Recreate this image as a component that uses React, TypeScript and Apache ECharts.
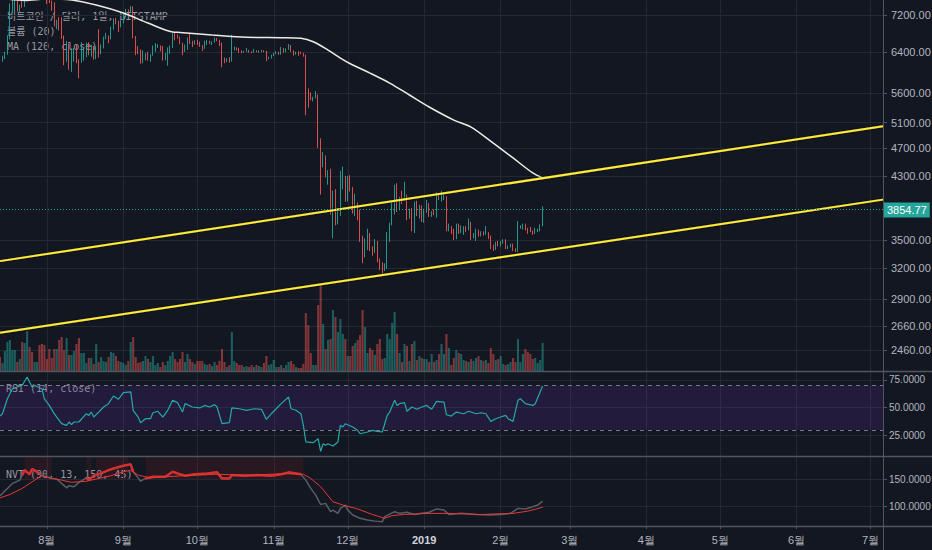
import React, { useEffect, useRef } from 'react';
import * as echarts from 'echarts';

// ---------- data ----------
const START = [2018, 6, 13]; // first daily candle: 2018-07-13
const END = [2019, 6, 6]; // right edge of the time axis: 2019-07-06
const FIRST_OPEN = 6250;

const CLOSES = [
  6240, 6270, 6360, 6730, 7320, 7380, 7470, 7340, 7410, 7400, 7720, 8400, 8170, 7940, 8190, 8230, 8210, 8170, 7730,
  7600, 7530, 7420, 7010, 7040, 6940, 6720, 6280, 6540, 6150, 6240, 6310, 6250, 6190, 6270, 6310, 6580, 6390, 6490, 6260, 6470, 6370, 6530, 6700, 6730, 6710, 6910, 7090, 7040, 6980, 7030,
  7190, 7280, 7260, 7370, 6700, 6510, 6410, 6200, 6250, 6320, 6290, 6330, 6490, 6490, 6520, 6500, 6250, 6340, 6390, 6490, 6760, 6720, 6710, 6590, 6430, 6460, 6680, 6630, 6600, 6630,
  6590, 6530, 6480, 6580, 6630, 6580, 6600, 6680, 6650, 6590, 6230, 6220, 6230, 6210, 6460, 6470, 6460, 6410, 6390, 6410, 6420, 6400, 6390, 6420, 6400, 6400, 6410, 6400, 6270, 6280, 6320,
  6360, 6390, 6360, 6480, 6420, 6460, 6530, 6420, 6350, 6390, 6380, 6370, 6320, 5620, 5600, 5520, 5520, 5580, 4770, 4420, 4560, 4300, 4330, 3860, 4000, 3770, 3790, 4250, 4250, 4000,
  4200, 4140, 3850, 3950, 3750, 3500, 3390, 3410, 3540, 3410, 3380, 3480, 3270, 3220, 3190, 3210, 3530, 3690, 3830, 4140, 3880, 4000, 3970, 4040, 3790, 3830, 3620, 3920, 3780, 3900, 3740,
  3850, 3940, 3800, 3820, 3790, 4030, 3990, 4000, 4010, 3640, 3650, 3620, 3510, 3660, 3590, 3620, 3650, 3610, 3690, 3540, 3550, 3590, 3560, 3590, 3580, 3580, 3550, 3440, 3400, 3460, 3440,
  3470, 3500, 3410, 3420, 3450, 3400, 3380, 3650, 3650, 3690, 3620, 3610, 3600, 3580, 3590, 3610, 3670, 3854.77,
];
const HIGHS = [
  6340, 6320, 6400, 6750, 7470, 7580, 7550, 7680, 7440, 7570, 7790, 8470, 8480, 8310, 8270, 8240, 8290, 8270, 8170,
  7750, 7730, 7540, 7500, 7090, 7150, 7150, 6740, 6620, 6570, 6470, 6480, 6540, 6250, 6600, 6480, 6590, 6600, 6540, 6520, 6510, 6880, 6550, 6720, 6800, 6740, 6940, 7120, 7130, 7070, 7080,
  7270, 7340, 7330, 7410, 7400, 6730, 6520, 6450, 6430, 6370, 6400, 6350, 6530, 6580, 6560, 6530, 6520, 6380, 6490, 6530, 6790, 6820, 6770, 6720, 6590, 6550, 6700, 6800, 6630, 6640,
  6650, 6610, 6540, 6630, 6650, 6630, 6620, 6700, 6690, 6650, 6590, 6280, 6270, 6290, 6760, 6510, 6490, 6480, 6430, 6420, 6480, 6440, 6410, 6460, 6430, 6430, 6440, 6430, 6420, 6300, 6340,
  6380, 6410, 6400, 6500, 6480, 6470, 6560, 6540, 6430, 6400, 6410, 6400, 6380, 6340, 5690, 5620, 5540, 5640, 5580, 4850, 4640, 4590, 4380, 4400, 4100, 4120, 3880, 4370, 4430, 4300,
  4300, 4310, 4150, 4060, 3950, 3860, 3550, 3520, 3630, 3580, 3430, 3510, 3490, 3300, 3260, 3250, 3590, 3700, 3950, 4180, 4200, 4020, 4100, 4220, 4050, 3870, 3880, 3960, 3970, 3920, 3910,
  3870, 3980, 3940, 3840, 3860, 4080, 4070, 4100, 4050, 4030, 3690, 3660, 3630, 3690, 3690, 3670, 3660, 3660, 3750, 3710, 3580, 3630, 3620, 3600, 3600, 3660, 3590, 3550, 3450, 3480, 3490,
  3490, 3510, 3510, 3440, 3460, 3460, 3410, 3720, 3670, 3690, 3690, 3640, 3650, 3610, 3640, 3630, 3680, 3900,
];
const LOWS = [
  6130, 6200, 6250, 6340, 6660, 7250, 7290, 7280, 7250, 7370, 7390, 7710, 8060, 7880, 7830, 8080, 8140, 7860, 7660,
  7460, 7480, 7300, 6940, 6880, 6850, 6670, 6130, 6200, 6040, 6000, 6200, 6170, 5880, 6180, 6220, 6290, 6330, 6300, 6240, 6250, 6280, 6350, 6470, 6660, 6580, 6660, 6870, 6990, 6820, 6920,
  7010, 7140, 7200, 7240, 6680, 6330, 6350, 6160, 6170, 6230, 6220, 6200, 6320, 6400, 6480, 6410, 6220, 6230, 6120, 6360, 6480, 6640, 6680, 6560, 6330, 6400, 6440, 6560, 6500, 6550,
  6540, 6500, 6420, 6460, 6540, 6560, 6540, 6590, 6620, 6520, 6090, 6170, 6190, 6180, 6200, 6430, 6430, 6380, 6370, 6380, 6400, 6380, 6370, 6380, 6390, 6380, 6390, 6390, 6210, 6250, 6260,
  6310, 6350, 6340, 6340, 6380, 6390, 6440, 6400, 6320, 6340, 6320, 6350, 6300, 5220, 5350, 5480, 5460, 5510, 4700, 4050, 4420, 4280, 4180, 3800, 3520, 3670, 3680, 3780, 4120, 3960,
  3960, 4090, 3810, 3780, 3730, 3480, 3250, 3310, 3390, 3380, 3330, 3360, 3260, 3180, 3130, 3170, 3190, 3480, 3670, 3800, 3830, 3850, 3930, 3970, 3730, 3750, 3600, 3580, 3780, 3750, 3710,
  3700, 3820, 3770, 3770, 3790, 3760, 3980, 3960, 3980, 3600, 3600, 3570, 3500, 3510, 3570, 3580, 3560, 3590, 3610, 3500, 3520, 3490, 3540, 3540, 3550, 3560, 3510, 3400, 3380, 3390, 3430,
  3430, 3460, 3400, 3400, 3420, 3380, 3370, 3370, 3630, 3620, 3610, 3570, 3590, 3560, 3570, 3590, 3600, 3660,
];
// relative volume (pane scale 0..100)
const VOLUMES = [
  14, 8, 20, 29, 31, 21, 21, 9, 12, 29, 28, 40, 24, 19, 9, 9, 26, 27, 26, 12,
  22, 13, 22, 22, 31, 34, 21, 33, 16, 16, 20, 27, 33, 18, 18, 8, 13, 13, 7, 27,
  9, 14, 10, 9, 14, 19, 18, 15, 10, 9, 8, 6, 10, 29, 34, 14, 8, 9, 10, 15,
  12, 9, 15, 6, 8, 4, 9, 6, 10, 15, 19, 12, 9, 12, 19, 9, 17, 12, 9, 7,
  10, 10, 10, 7, 6, 7, 5, 9, 6, 10, 22, 9, 4, 6, 39, 10, 8, 6, 6, 4,
  5, 4, 6, 4, 6, 5, 4, 8, 15, 6, 7,
  11, 4, 4, 6, 3, 6, 9, 10, 7, 4, 3, 3, 7, 58, 46, 18, 6, 6, 66, 87,
  47, 22, 31, 32, 61, 54, 39, 52, 37, 32, 15, 15, 25, 28, 31, 36, 61, 44, 18, 23,
  21, 16, 27, 32, 12, 13, 37, 32, 48, 59, 37, 18, 9, 27, 25, 10, 27, 30, 11, 15,
  13, 12, 12, 9, 17, 9, 11, 17, 27, 17, 37,
  23, 6, 13, 21, 18, 17, 11, 10, 9, 12, 10, 13, 15, 11, 10, 11, 8, 23, 17, 11,
  12, 15, 7, 6, 7, 9, 13, 9,
  32, 9, 17, 22, 19, 17, 12, 13, 8, 11, 28,
];
// [day index from 2018-07-13, value]
const MA120_POINTS = [
  [0, 7600], [10, 7545], [19, 7580], [29, 7555], [39, 7433], [50, 7246], [60, 7017], [70, 6818], [73, 6810],
  [86, 6753], [100, 6703], [114, 6695], [122, 6682], [127, 6610], [133, 6436], [138, 6273], [143, 6134],
  [150, 5978], [158, 5790], [166, 5572], [174, 5362], [184, 5142], [191, 5028], [200, 4776], [208, 4554],
  [216, 4340], [220, 4271],
];
const RSI_POINTS = [
  [0, 42.4], [1, 44.5], [3, 58], [5, 67], [7, 68.7], [9, 70.2], [11, 77.7], [13, 68.7], [14, 70], [17, 67],
  [18, 58], [20, 52], [22, 44.5], [23, 41.5], [25, 35.5], [27, 34], [28, 37], [29, 34.6], [30, 37], [32, 37],
  [35, 44.5], [36, 43], [37, 46], [38, 41.5], [40, 46], [42, 50.6], [44, 53.6], [46, 60.5], [48, 57.5], [50, 63.5],
  [53, 64.2], [54, 47.6], [56, 41.5], [57, 36.4], [59, 40], [61, 40], [62, 45.4], [64, 46.7], [66, 41.5], [68, 47.6],
  [70, 56.6], [72, 54.5], [74, 46], [75, 53.6], [78, 50.6], [81, 49.7], [83, 52], [85, 50.6], [87, 52.7], [88, 50.6],
  [90, 35.5], [93, 36.4], [94, 49.7], [97, 49], [100, 47.6], [103, 49], [106, 48.5], [108, 39.4], [110, 44.5], [112, 49],
  [114, 53.6], [117, 59.6], [118, 49], [120, 47.6], [122, 44.5], [123, 34], [124, 19], [127, 18.3], [129, 22], [130, 10.5],
  [131, 17.4], [132, 16], [133, 17.4], [135, 15.3], [137, 19], [138, 34], [139, 32.5], [140, 35.5], [143, 32.5], [145, 29.5],
  [146, 26.4], [149, 28], [151, 29.5], [153, 28.6], [155, 28], [157, 43], [158, 46], [160, 56.6], [161, 52], [162, 53.6],
  [164, 54.5], [165, 46.7], [167, 50.6], [169, 48.5], [171, 50.6], [173, 52], [175, 48.5], [177, 55.7], [180, 55], [181, 43.6],
  [183, 42.4], [185, 46], [188, 44.5], [190, 46.7], [193, 44.5], [195, 45.4], [197, 44.5], [199, 37.6], [201, 40], [203, 41.5],
  [205, 43], [206, 40], [208, 37.6], [210, 56.6], [211, 58], [213, 53.6], [216, 52], [217, 53.6], [220, 69.6],
];
const NVT_POINTS = [
  [0, 119.9], [3, 133], [5, 142], [6, 144], [8, 148], [9, 157], [10, 166], [12, 158.5], [13, 168], [14, 166],
  [16, 160], [17, 156], [19, 154], [21, 151], [23, 150], [25, 142], [27, 134], [28, 138], [30, 136], [32, 144],
  [35, 152], [36, 148], [38, 156], [41, 160], [44, 166], [46, 169], [50, 174], [53, 176.5], [54, 163], [56, 152],
  [57, 146], [59, 151], [62, 154], [67, 154], [70, 163], [72, 160], [75, 156], [79, 158.5], [84, 160], [88, 162],
  [90, 151], [93, 151], [94, 157], [99, 156], [104, 157], [110, 156], [114, 158.5], [117, 162], [122, 158.5], [124, 148],
  [126, 133], [128, 121], [130, 104], [132, 106], [134, 91], [135, 94], [137, 88], [138, 97], [140, 103], [141, 94],
  [143, 85], [146, 79], [149, 76], [152, 74], [155, 73], [156, 82], [160, 91], [162, 88], [165, 90], [168, 86],
  [171, 88], [174, 90], [177, 96], [180, 94], [182, 86], [187, 88], [193, 86], [198, 85], [203, 86], [207, 88],
  [210, 97], [213, 96], [216, 100], [218, 103], [220, 110],
];
const NVT_SIGNAL_POINTS = [
  [0, 116], [4, 122], [9, 133], [13, 145], [17, 156], [20, 152], [25, 148], [29, 144], [35, 146], [39, 150],
  [45, 156], [50, 163], [53, 166], [56, 157], [61, 152], [67, 154], [75, 156], [87, 158.5], [101, 157], [116, 159.6],
  [123, 158.5], [126, 151], [130, 136], [135, 109], [139, 103], [145, 96], [151, 86], [156, 79], [159, 84], [164, 86],
  [174, 88], [182, 88], [195, 86], [208, 88], [214, 92], [220, 99],
];
const NVT_ZONES = [[10, 21], [35, 37], [39, 52], [59, 123]];
const NVT_HOT_RANGES = [[9, 16], [33, 54], [58, 123]];

const PRICE_TICKS = [2460, 2660, 2900, 3200, 3500, 4300, 4700, 5100, 5600, 6400, 7200];
const PRICE_MIN = 2301;
const PRICE_MAX = 7555;
const LAST_PRICE = 3854.77;
const UPPER_TREND = [3272, 5042]; // value at first / last category
const LOWER_TREND = [2601, 3985];
const RSI_TICKS = [25, 50, 75];
const RSI_MIN = 6.3;
const RSI_MAX = 82.2;
const RSI_BAND = [30, 70];
const NVT_TICKS = [100, 150];
const NVT_MIN = 65.2;
const NVT_MAX = 189.7;
const NVT_THRESHOLD = 150;

const TITLE_LINES = ['비트코인 / 달러, 1일, BITSTAMP', '볼륨 (20)', 'MA (120, close)'];
const RSI_TITLE = 'RSI (14, close)';
const NVT_TITLE = 'NVT (90, 13, 150, 45)';

// ---------- styles ----------
const BG = '#131722';
const GRID = '#242833';
const SEP = '#52555f';
const LABEL = '#b2b5be';
const LEGEND = '#9598a1';
const TEAL = '#26a69a';
const RED = '#ef5350';
const MONO = '10px "DejaVu Sans Mono", "Noto Sans CJK KR", monospace';
const SANS = '"Liberation Sans", Arial, sans-serif';

function buildDates(): string[] {
  const out: string[] = [];
  const d = new Date(Date.UTC(START[0], START[1], START[2]));
  const end = Date.UTC(END[0], END[1], END[2]);
  while (d.getTime() <= end) {
    out.push(d.toISOString().slice(0, 10));
    d.setUTCDate(d.getUTCDate() + 1);
  }
  return out;
}

function buildOption() {
  const ln = Math.log;
  const DATES = buildDates();
  const last = DATES.length - 1;
  const monthStart = (_i: number, v: string) => v.slice(8, 10) === '01';
  const opens = CLOSES.map((c, i) => (i === 0 ? FIRST_OPEN : CLOSES[i - 1]));
  const candles = CLOSES.map((c, i) => {
    const o = opens[i];
    const h = Math.max(HIGHS[i], o, c);
    const l = Math.min(LOWS[i], o, c);
    return [ln(o), ln(c), ln(l), ln(h)];
  });
  const vols = VOLUMES.map((v, i) => ({
    value: v,
    itemStyle: { color: CLOSES[i] >= opens[i] ? 'rgba(38,166,154,0.5)' : 'rgba(239,83,80,0.5)' },
  }));
  const pts = (arr: number[][], f = (x: number) => x) => arr.map(([i, v]) => [DATES[i], f(v)]);

  const grids = [
    { left: 0, right: 49, top: 0, height: 371 },
    { left: 0, right: 49, top: 271, height: 100 },
    { left: 0, right: 49, top: 372, height: 84 },
    { left: 0, right: 49, top: 457, height: 69 },
  ].map((g) => ({ ...g, outerBoundsMode: 'none', containLabel: false }));

  const xAxes = [0, 1, 2, 3].map((i) => ({
    type: 'category',
    gridIndex: i,
    data: DATES,
    boundaryGap: false,
    show: i !== 1,
    axisLine: { show: false },
    axisTick: { show: i === 3, interval: monthStart, length: 3, lineStyle: { color: SEP } },
    axisLabel: {
      show: i === 3,
      interval: monthStart,
      color: LABEL,
      fontSize: 11,
      fontFamily: SANS,
      margin: 8,
      formatter: (v: string) => {
        const m = Number(v.slice(5, 7));
        return m === 1 ? `{y|${v.slice(0, 4)}}` : `${m}월`;
      },
      rich: { y: { fontWeight: 'bold', color: '#d1d4dc', fontSize: 11, fontFamily: SANS } },
    },
    splitLine: { show: i !== 1, interval: monthStart, lineStyle: { color: GRID, width: 1 } },
  }));

  const valueAxis = (
    grid: number,
    min: number,
    max: number,
    ticks: number[],
    fmt: (v: number) => string,
    fontSize: number,
    margin: number,
  ) => ({
    type: 'value',
    gridIndex: grid,
    position: 'right',
    offset: 0,
    min,
    max,
    axisLine: { show: false },
    axisTick: { show: true, customValues: ticks, length: 4, lineStyle: { color: SEP } },
    axisLabel: { customValues: ticks, formatter: fmt, color: LABEL, fontSize, fontFamily: SANS, margin },
    splitLine: { show: true, lineStyle: { color: GRID, width: 1 } },
  });

  const yAxes = [
    valueAxis(0, ln(PRICE_MIN), ln(PRICE_MAX), PRICE_TICKS.map(ln), (v) => Math.exp(v).toFixed(2), 11, 8),
    {
      type: 'value',
      gridIndex: 0,
      position: 'right',
      offset: 0,
      min: ln(PRICE_MIN),
      max: ln(PRICE_MAX),
      axisLine: { show: false },
      axisTick: { show: false },
      splitLine: { show: false },
      axisLabel: {
        customValues: [ln(LAST_PRICE)],
        formatter: (v: number) => Math.exp(v).toFixed(2),
        color: '#ffffff',
        backgroundColor: TEAL,
        padding: [2, 3, 2, 3],
        fontSize: 11,
        fontFamily: SANS,
        margin: 1,
      },
    },
    { type: 'value', gridIndex: 1, min: 0, max: 100, show: false, splitLine: { show: false } },
    valueAxis(2, RSI_MIN, RSI_MAX, RSI_TICKS, (v) => v.toFixed(4), 10, 6),
    valueAxis(3, NVT_MIN, NVT_MAX, NVT_TICKS, (v) => v.toFixed(4), 10, 6),
  ];

  const series: any[] = [
    {
      type: 'candlestick',
      xAxisIndex: 0,
      yAxisIndex: 0,
      data: candles,
      barWidth: 1.3,
      z: 2,
      itemStyle: { color: TEAL, color0: RED, borderColor: TEAL, borderColor0: RED, borderWidth: 0.9 },
      markLine: {
        silent: true,
        symbol: ['none', 'none'],
        label: { show: false },
        lineStyle: { color: TEAL, type: [1, 2], width: 1, opacity: 1 },
        data: [{ yAxis: ln(LAST_PRICE) }],
      },
    },
    {
      type: 'line',
      name: 'MA120',
      xAxisIndex: 0,
      yAxisIndex: 0,
      data: pts(MA120_POINTS, ln),
      showSymbol: false,
      smooth: 0.3,
      z: 3,
      lineStyle: { color: '#ecece4', width: 1.5 },
    },
    ...[UPPER_TREND, LOWER_TREND].map((t) => ({
      type: 'line',
      xAxisIndex: 0,
      yAxisIndex: 0,
      data: [[DATES[0], ln(t[0])], [DATES[last], ln(t[1])]],
      showSymbol: false,
      z: 4,
      lineStyle: { color: '#ffeb3b', width: 2, shadowColor: 'rgba(0,0,0,0.9)', shadowBlur: 2 },
    })),
    {
      type: 'bar',
      xAxisIndex: 1,
      yAxisIndex: 2,
      data: vols,
      barWidth: 2.1,
      z: 1,
    },
    {
      type: 'line',
      xAxisIndex: 2,
      yAxisIndex: 3,
      data: pts(RSI_POINTS),
      showSymbol: false,
      z: 3,
      lineStyle: { color: '#24a9aa', width: 1.2 },
      markArea: {
        silent: true,
        itemStyle: { color: 'rgba(120,50,190,0.16)' },
        data: [[{ yAxis: RSI_BAND[0] }, { yAxis: RSI_BAND[1] }]],
      },
      markLine: {
        silent: true,
        symbol: ['none', 'none'],
        label: { show: false },
        lineStyle: { color: '#787b86', type: [4, 4], width: 1 },
        data: RSI_BAND.map((v) => ({ yAxis: v })),
      },
    },
    {
      type: 'line',
      xAxisIndex: 3,
      yAxisIndex: 4,
      data: pts(NVT_POINTS),
      showSymbol: false,
      z: 2,
      lineStyle: { color: '#5a5d66', width: 1.5 },
      markArea: {
        silent: true,
        itemStyle: { color: 'rgba(200,30,45,0.12)' },
        data: NVT_ZONES.map(([a, b]) => [
          { xAxis: DATES[a], yAxis: NVT_THRESHOLD },
          { xAxis: DATES[b], yAxis: NVT_MAX },
        ]),
      },
    },
    ...NVT_HOT_RANGES.map(([a, b]) => ({
      type: 'line',
      xAxisIndex: 3,
      yAxisIndex: 4,
      data: pts(NVT_POINTS.filter(([i]) => i >= a && i <= b)),
      showSymbol: false,
      z: 3,
      lineStyle: { color: '#d32f2f', width: 2.5 },
    })),
    {
      type: 'line',
      xAxisIndex: 3,
      yAxisIndex: 4,
      data: pts(NVT_SIGNAL_POINTS),
      showSymbol: false,
      z: 4,
      lineStyle: { color: '#e53935', width: 1 },
    },
  ];

  const legendText = (text: string, x: number, y: number) => ({
    type: 'text',
    x,
    y,
    z: 0,
    silent: true,
    style: { text, fill: LEGEND, font: MONO, verticalAlign: 'middle' },
  });
  const hLine = (y: number) => ({
    type: 'line',
    z: 10,
    silent: true,
    shape: { x1: 0, y1: y, x2: 932, y2: y },
    style: { stroke: SEP, lineWidth: 1.5 },
  });

  return {
    animation: false,
    backgroundColor: BG,
    textStyle: { fontFamily: SANS },
    grid: grids,
    xAxis: xAxes,
    yAxis: yAxes,
    series,
    graphic: [
      ...TITLE_LINES.map((t, i) => legendText(t, 7, 16 + 15 * i)),
      legendText(RSI_TITLE, 6, 388),
      legendText(NVT_TITLE, 6, 474),
      hLine(371.5),
      hLine(456.5),
      hLine(526.5),
      {
        type: 'line',
        z: 10,
        silent: true,
        shape: { x1: 883.5, y1: 0, x2: 883.5, y2: 550 },
        style: { stroke: SEP, lineWidth: 1 },
      },
    ],
  };
}

export default function App() {
  const ref = useRef<HTMLDivElement>(null);
  useEffect(() => {
    document.body.style.margin = '0';
    const chart = echarts.init(ref.current as HTMLDivElement, undefined, { renderer: 'svg' });
    chart.setOption(buildOption() as any);
    return () => chart.dispose();
  }, []);
  return <div ref={ref} style={{ width: 932, height: 550, background: BG }} />;
}
